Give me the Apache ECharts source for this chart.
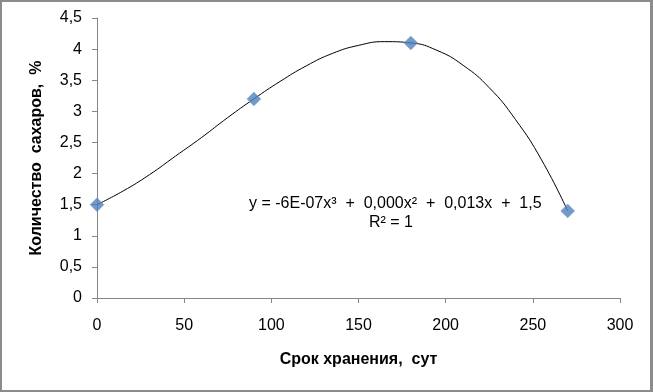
<!DOCTYPE html>
<html>
<head>
<meta charset="utf-8">
<script src="https://cdn.jsdelivr.net/npm/echarts@6/dist/echarts.min.js"></script>
<style>
  html, body { margin: 0; padding: 0; background: #fff; }
  #chart { width: 653px; height: 392px; box-sizing: border-box; border: 2px solid #8c8c8c; border-right-width: 3px; }
</style>
</head>
<body>
<div id="chart"></div>
<script>
// measured points
const days = [0, 90, 180, 270];
const sugar = [1.5, 3.2, 4.1, 1.4];

// trend line, every 15 days
const trendDays = [0, 15, 30, 45, 60, 75, 90, 105, 120, 135, 150, 165, 180, 195, 210, 225, 240, 255, 270];
const trendSugar = [1.5, 1.72, 1.98, 2.28, 2.58, 2.9, 3.2, 3.48, 3.73, 3.93, 4.06, 4.12, 4.1, 3.98, 3.74, 3.38, 2.87, 2.22, 1.4];

const xTicks = [0, 50, 100, 150, 200, 250, 300];
const yTicks = [0, 0.5, 1, 1.5, 2, 2.5, 3, 3.5, 4, 4.5];

const chart = echarts.init(document.getElementById('chart'));

const fmt = v => String(v).replace('.', ',');
const axisGray = '#868686';
const font = 'Liberation Sans, Arial, sans-serif';

chart.setOption({
  animation: false,
  textStyle: { fontFamily: font },
  grid: { left: 95, top: 16, right: 30, bottom: 92 },
  xAxis: {
    type: 'value',
    min: xTicks[0],
    max: xTicks[xTicks.length - 1],
    interval: 50,
    name: 'Срок хранения,  сут',
    nameLocation: 'middle',
    nameGap: 54,
    nameTextStyle: { fontSize: 16, fontWeight: 'bold', color: '#000' },
    axisLine: { show: true, lineStyle: { color: axisGray } },
    axisTick: { show: true, length: 5, lineStyle: { color: axisGray } },
    axisLabel: { fontSize: 16, color: '#000', margin: 20, formatter: fmt },
    splitLine: { show: false }
  },
  yAxis: {
    type: 'value',
    min: yTicks[0],
    max: yTicks[yTicks.length - 1],
    interval: 0.5,
    name: 'Количество  сахаров,  %',
    nameLocation: 'middle',
    nameGap: 52,
    nameTextStyle: { fontSize: 16, fontWeight: 'bold', color: '#000' },
    axisLine: { show: true, lineStyle: { color: axisGray } },
    axisTick: { show: true, length: 5, lineStyle: { color: axisGray } },
    axisLabel: { fontSize: 16, color: '#000', margin: 15, formatter: fmt },
    splitLine: { show: false }
  },
  series: [
    {
      type: 'line',
      data: trendDays.map((d, i) => [d, trendSugar[i]]),
      smooth: true,
      showSymbol: false,
      lineStyle: { color: '#000', width: 1 },
      z: 2
    },
    {
      type: 'scatter',
      data: days.map((d, i) => [d, sugar[i]]),
      symbol: 'diamond',
      symbolSize: [14, 14],
      itemStyle: { color: '#4f81bd', borderColor: '#7f9fcf', borderWidth: 0.5 },
      z: 3
    }
  ],
  graphic: [
    {
      type: 'text',
      left: 247, top: 194,
      style: { text: 'y = -6E-07x³  +  0,000x²  +  0,013x  +  1,5', fontSize: 16, fill: '#000', fontFamily: font }
    },
    {
      type: 'text',
      left: 367, top: 213,
      style: { text: 'R² = 1', fontSize: 16, fill: '#000', fontFamily: font }
    }
  ]
});
</script>
</body>
</html>
